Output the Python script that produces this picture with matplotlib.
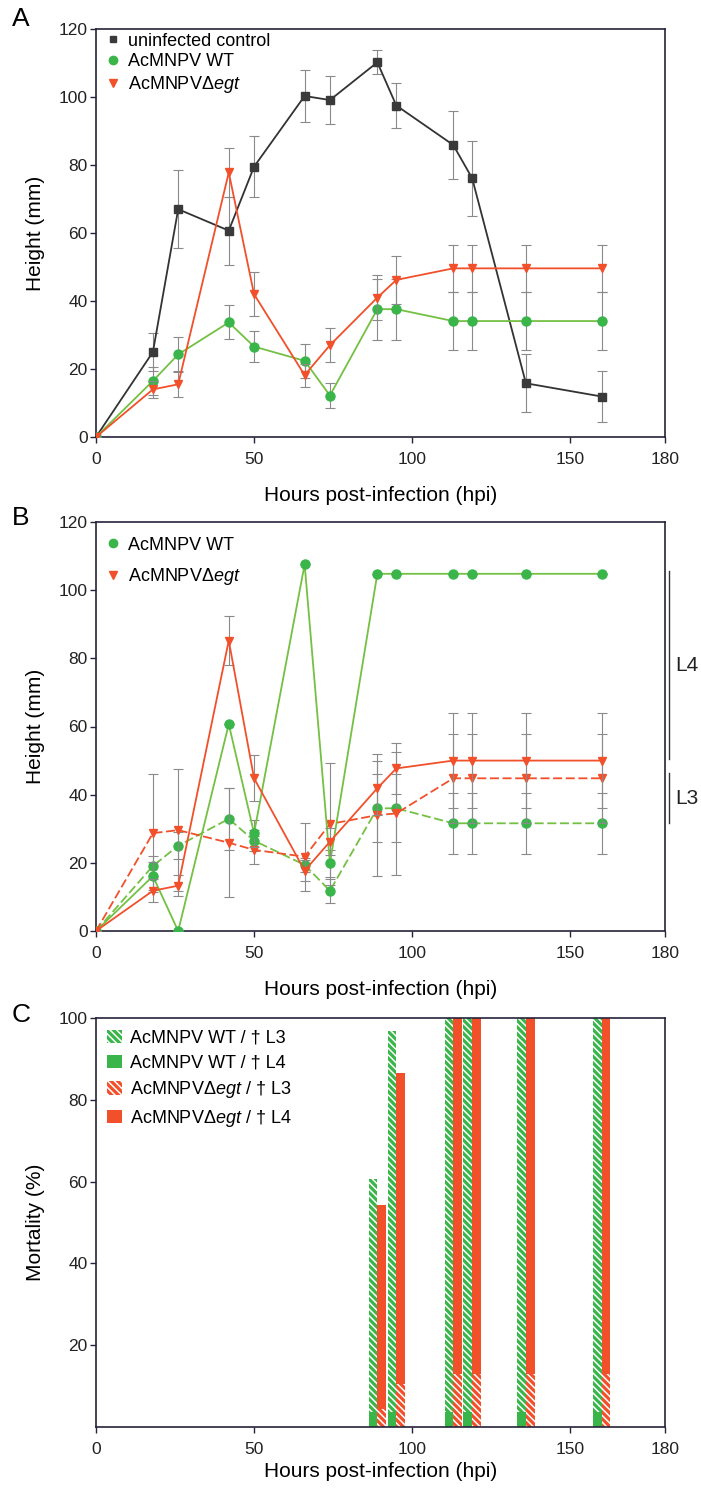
import matplotlib
matplotlib.use('Agg')
import matplotlib.pyplot as plt
from matplotlib.patches import Patch
from matplotlib.lines import Line2D

plt.rcParams['font.family'] = ['Liberation Sans', 'DejaVu Sans']
plt.rcParams['mathtext.fontset'] = 'custom'
plt.rcParams['mathtext.rm'] = 'Liberation Sans'
plt.rcParams['mathtext.it'] = 'Liberation Sans:italic'
plt.rcParams['hatch.linewidth'] = 1.1

# =========================================================
# Data
# =========================================================

hpi = [0, 18, 26, 42, 50, 66, 74, 89, 95, 113, 119, 136, 160]

# Panel A - all larvae
ctrl_a = [0, 25, 67, 60.7, 79.5, 100.3, 99.1, 110.2, 97.5, 85.9, 76.1, 15.8, 11.9]
ctrl_a_err = [0, 5.5, 11.5, 10, 9, 7.7, 7, 3.5, 6.7, 10, 11, 8.5, 7.6]
wt_a = [0, 16.5, 24.3, 33.7, 26.6, 22.4, 12.2, 37.6, 37.6, 34.1, 34.1, 34.1, 34.1]
wt_a_err = [0, 4, 5, 5, 4.6, 5, 3.8, 9, 9, 8.5, 8.5, 8.5, 8.5]
degt_a = [0, 14, 15.5, 77.8, 42, 18.2, 27, 41, 46.2, 49.6, 49.6, 49.6, 49.6]
degt_a_err = [0, 2.5, 3.6, 7.3, 6.4, 3.4, 5, 6.6, 7, 7, 7, 7, 7]

# Panel B - split by stage of death (L4 solid, L3 dashed)
wt_l4 = [0, 16.1, 0, 60.7, 28.7, 107.6, 19.9, 104.8, 104.8, 104.8, 104.8, 104.8, 104.8]
wt_l4_err = [0, 4, 0, 0, 4, 0, 4, 0, 0, 0, 0, 0, 0]
wt_l3 = [0, 19.1, 25, 32.9, 26.5, 19.4, 11.8, 36, 36, 31.6, 31.6, 31.6, 31.6]
wt_l3_err = [0, 3, 4, 9, 3, 2, 3.5, 10, 10, 9, 9, 9, 9]
degt_l4 = [0, 11.8, 13.3, 85.2, 44.8, 17.7, 26.2, 41.9, 47.7, 50, 50, 50, 50]
degt_l4_err = [0, 3.4, 3, 7.3, 6.8, 3, 4, 8, 7.5, 14, 14, 14, 14]
degt_l3 = [0, 28.7, 29.6, 25.9, 23.8, 21.8, 31.4, 34, 34.5, 44.8, 44.8, 44.8, 44.8]
degt_l3_err = [0, 17.3, 18, 16, 4, 10, 18, 18, 18, 13, 13, 13, 13]

# Panel C - cumulative mortality (%)
mort_hpi = [89, 95, 113, 119, 136, 160]
wt_dead_l4 = [3.7, 3.7, 3.7, 3.7, 3.7, 3.7]
wt_dead_l3 = [57, 93.2, 96.3, 96.3, 96.3, 96.3]
degt_dead_l3 = [4.3, 10.6, 13, 13, 13, 13]
degt_dead_l4 = [50, 76, 87, 87, 87, 87]

# =========================================================
# Style
# =========================================================

GREY = '#3a3a3a'
GREEN = '#39b54a'
GREEN_LINE = '#74c043'
RED = '#f1502a'
ERR = '#8a8a8a'
SPINE = '#26233a'

DEGT = 'AcMNPV\u0394$\\mathit{egt}$'

fig = plt.figure(figsize=(7.01, 14.89), dpi=100)
W, H = 701.0, 1489.0

def make_axes(top, bottom):
    return fig.add_axes([96 / W, 1 - bottom / H, 569 / W, (bottom - top) / H])

def style_axes(ax):
    for s in ax.spines.values():
        s.set_color(SPINE)
        s.set_linewidth(1.2)
    ax.tick_params(axis='both', direction='out', length=4.5, width=1.0,
                   color=SPINE, labelsize=12.5, labelcolor='#222222')
    ax.tick_params(axis='x', pad=6.3)
    ax.tick_params(axis='y', pad=1.5)
    ax.set_xlim(0, 180)
    ax.set_xticks([0, 50, 100, 150, 180])

def err_series(ax, y, yerr, color, marker, ms, ls='-', lcolor=None, z=3):
    ax.errorbar(hpi, y, yerr=yerr, fmt='none', ecolor=ERR, elinewidth=0.8,
                capsize=3.5, capthick=0.8, zorder=z - 1)
    ax.plot(hpi, y, linestyle=ls, color=lcolor or color, linewidth=1.3,
            marker=marker, markersize=ms, markerfacecolor=color,
            markeredgecolor=color, zorder=z)

# =========================================================
# Panel A
# =========================================================

ax_a = make_axes(29, 437)
style_axes(ax_a)
err_series(ax_a, ctrl_a, ctrl_a_err, GREY, 's', 5.5, lcolor='#333333', z=3)
err_series(ax_a, wt_a, wt_a_err, GREEN, 'o', 6.5, lcolor=GREEN_LINE, z=5)
err_series(ax_a, degt_a, degt_a_err, RED, 'v', 6.2, z=7)
ax_a.set_ylim(0, 120)
ax_a.set_yticks(range(0, 121, 20))
ax_a.set_xlabel('Hours post-infection (hpi)', fontsize=15)
ax_a.set_ylabel('Height (mm)', fontsize=15)
ax_a.xaxis.set_label_coords(0.5, -0.12)
ax_a.yaxis.set_label_coords(-0.09, 0.5)

handles_a = [
    Line2D([], [], linestyle='none', marker='s', markersize=5, color=GREY),
    Line2D([], [], linestyle='none', marker='o', markersize=6, color=GREEN),
    Line2D([], [], linestyle='none', marker='v', markersize=6, color=RED),
]
ax_a.legend(handles_a, ['uninfected control', 'AcMNPV WT', DEGT], loc='upper left',
            bbox_to_anchor=(0.014, 0.991), borderaxespad=0, borderpad=0,
            frameon=False, fontsize=13, handlelength=1.0, handletextpad=0.35,
            labelspacing=0.2)

# =========================================================
# Panel B
# =========================================================

ax_b = make_axes(522, 931)
style_axes(ax_b)
dash = (0, (5, 2))
err_series(ax_b, wt_l3, wt_l3_err, GREEN, 'o', 6.5, ls=dash, lcolor=GREEN_LINE, z=3)
err_series(ax_b, degt_l3, degt_l3_err, RED, 'v', 6.2, ls=dash, z=5)
err_series(ax_b, wt_l4, wt_l4_err, GREEN, 'o', 6.5, lcolor=GREEN_LINE, z=7)
err_series(ax_b, degt_l4, degt_l4_err, RED, 'v', 6.2, z=9)
ax_b.set_ylim(0, 120)
ax_b.set_yticks(range(0, 121, 20))
ax_b.set_xlabel('Hours post-infection (hpi)', fontsize=15)
ax_b.set_ylabel('Height (mm)', fontsize=15)
ax_b.xaxis.set_label_coords(0.5, -0.12)
ax_b.yaxis.set_label_coords(-0.09, 0.5)

handles_b = [
    Line2D([], [], linestyle='none', marker='o', markersize=6, color=GREEN),
    Line2D([], [], linestyle='none', marker='v', markersize=6, color=RED),
]
ax_b.legend(handles_b, ['AcMNPV WT', DEGT], loc='upper left',
            bbox_to_anchor=(0.014, 0.964), borderaxespad=0, borderpad=0,
            frameon=False, fontsize=13, handlelength=1.0, handletextpad=0.35,
            labelspacing=0.68)

# stage brackets on the right
ax_b.plot([181.4, 181.4], [105.5, 50.5], color='#333333', lw=1.0, clip_on=False)
ax_b.plot([181.4, 181.4], [46.4, 31.6], color='#333333', lw=1.0, clip_on=False)
ax_b.text(183.2, 78, 'L4', fontsize=15, ha='left', va='center', color='#222222')
ax_b.text(183.2, 39, 'L3', fontsize=15, ha='left', va='center', color='#222222')

# =========================================================
# Panel C
# =========================================================

ax_c = make_axes(1018, 1427)
style_axes(ax_c)
bw = 2.7
x_wt = [t - 1.4 for t in mort_hpi]
x_dg = [t + 1.4 for t in mort_hpi]
hatch = '\\\\\\\\\\'

ax_c.bar(x_wt, wt_dead_l4, width=bw, color=GREEN, linewidth=0)
ax_c.bar(x_wt, wt_dead_l3, width=bw, bottom=wt_dead_l4, facecolor=GREEN,
         edgecolor='white', hatch=hatch, linewidth=0)
ax_c.bar(x_dg, degt_dead_l3, width=bw, facecolor=RED, edgecolor='white',
         hatch=hatch, linewidth=0)
ax_c.bar(x_dg, degt_dead_l4, width=bw, bottom=degt_dead_l3, color=RED, linewidth=0)

ax_c.set_ylim(0, 100)
ax_c.set_yticks(range(20, 101, 20))
ax_c.set_xlabel('Hours post-infection (hpi)', fontsize=15)
ax_c.set_ylabel('Mortality (%)', fontsize=15)
ax_c.xaxis.set_label_coords(0.5, -0.085)
ax_c.yaxis.set_label_coords(-0.09, 0.5)

handles_c = [
    Patch(facecolor=GREEN, edgecolor='white', hatch=hatch, linewidth=0),
    Patch(facecolor=GREEN, linewidth=0),
    Patch(facecolor=RED, edgecolor='white', hatch=hatch, linewidth=0),
    Patch(facecolor=RED, linewidth=0),
]
labels_c = ['AcMNPV WT / \u2020 L3', 'AcMNPV WT / \u2020 L4',
            DEGT + ' / \u2020 L3', DEGT + ' / \u2020 L4']
ax_c.legend(handles_c, labels_c, loc='upper left',
            bbox_to_anchor=(0.019, 0.971), borderaxespad=0, borderpad=0,
            frameon=False, fontsize=13, handlelength=0.83, handleheight=0.78,
            handletextpad=0.45, labelspacing=0.42)

# panel letters
fig.text(21 / W, 1 - 19 / H, 'A', fontsize=19, ha='center', va='center')
fig.text(21 / W, 1 - 518 / H, 'B', fontsize=19, ha='center', va='center')
fig.text(21 / W, 1 - 1015 / H, 'C', fontsize=19, ha='center', va='center')

fig.savefig('out.png', dpi=100)
